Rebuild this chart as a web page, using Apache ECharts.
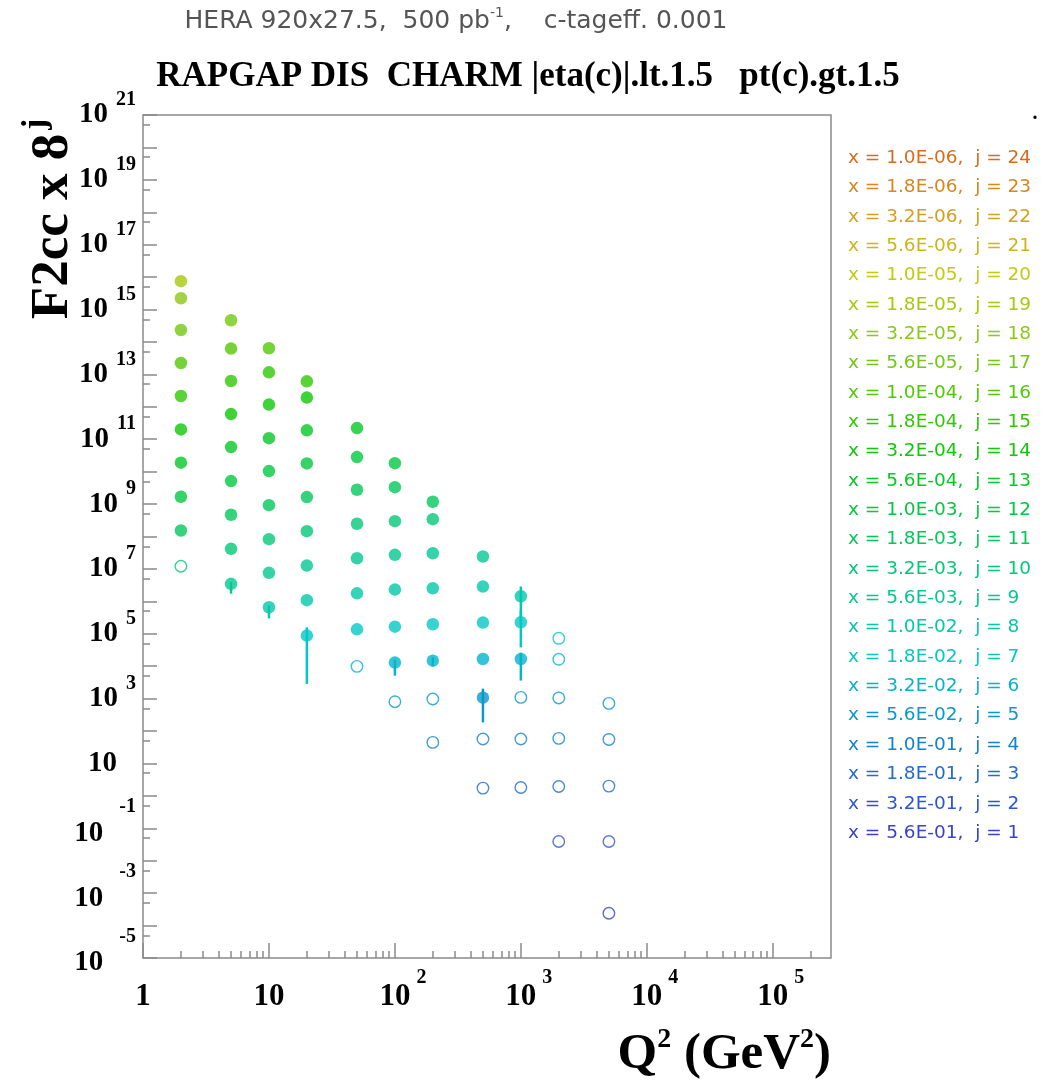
<!DOCTYPE html>
<html>
<head>
<meta charset="utf-8">
<script src="https://cdn.jsdelivr.net/npm/echarts@6/dist/echarts.min.js"></script>
<style>
  html, body { margin: 0; padding: 0; background: #ffffff; }
  #chart { width: 1041px; height: 1085px; }
</style>
</head>
<body>
<div id="chart"></div>
<script>
// Q² bins (GeV²)
const q2Bins = [2, 5, 10, 20, 50, 100, 200, 500, 1000, 2000, 5000];
// x bin labels, index = j - 1
const xBins = ['5.6E-01', '3.2E-01', '1.8E-01', '1.0E-01', '5.6E-02', '3.2E-02',
  '1.8E-02', '1.0E-02', '5.6E-03', '3.2E-03', '1.8E-03', '1.0E-03',
  '5.6E-04', '3.2E-04', '1.8E-04', '1.0E-04', '5.6E-05', '3.2E-05',
  '1.8E-05', '1.0E-05', '5.6E-06', '3.2E-06', '1.8E-06', '1.0E-06'];
// colour of each x bin, index = j - 1
const jColors = ['#3a42cc', '#2c56cc', '#216ccc', '#1582cc', '#0a98cc', '#04b4cc',
  '#04c8c4', '#04c8aa', '#04c892', '#04c878', '#04c85c', '#04c842',
  '#06c828', '#10c808', '#30c804', '#52c806', '#72c812', '#8cc816',
  '#a8c810', '#c2ca12', '#ccb618', '#d4a01e', '#d8861e', '#d86c1c'];

// largest j reached in each Q² bin, and how many points (from the top) are measured
const topJ = [19, 17, 16, 15, 13, 12, 11, 9, 8, 7, 5];
const filledCount = [9, 9, 9, 9, 7, 7, 6, 5, 3, 0, 0];

// F2cc x 8^j in each Q² bin, listed from the largest j downward
const f2Q2_2    = [7.48e15, 2.23e15, 2.34e14, 2.24e13, 2.15e12, 2.01e11, 1.89e10, 1.68e9, 1.53e8, 1.21e7];
const f2Q2_5    = [4.68e14, 6.25e13, 6.25e12, 5.98e11, 5.73e10, 5.11e9, 4.68e8, 4.17e7, 3.47e6];
const f2Q2_10   = [6.38e13, 1.16e13, 1.17e12, 1.08e11, 1.04e10, 9.27e8, 8.26e7, 7.57e6, 6.56e5];
const f2Q2_20   = [6.11e12, 1.92e12, 1.88e11, 1.79e10, 1.64e9, 1.46e8, 1.27e7, 1.09e6, 8.77e4];
const f2Q2_50   = [2.21e11, 2.81e10, 2.77e9, 2.47e8, 2.14e7, 1.77e6, 1.37e5, 9.89e3];
const f2Q2_100  = [1.83e10, 3.33e9, 2.97e8, 2.72e7, 2.31e6, 1.66e5, 1.29e4, 8.04e2];
const f2Q2_200  = [1.18e9, 3.43e8, 3.05e7, 2.54e6, 1.96e5, 1.48e4, 9.75e2, 44.6];
const f2Q2_500  = [2.42e7, 2.86e6, 2.21e5, 1.67e4, 1.07e3, 56.8, 1.74];
const f2Q2_1000 = [1.44e6, 2.26e5, 1.67e4, 1.09e3, 56.8, 1.82];
const f2Q2_2000 = [7.24e4, 1.63e4, 1.05e3, 59.2, 1.95, 3.91e-2];
const f2Q2_5000 = [713, 55.1, 2.00, 3.91e-2, 2.40e-4];
const f2Columns = [f2Q2_2, f2Q2_5, f2Q2_10, f2Q2_20, f2Q2_50, f2Q2_100,
  f2Q2_200, f2Q2_500, f2Q2_1000, f2Q2_2000, f2Q2_5000];

// error bars: Q² bin, j, lower and upper edge
const errQ2   = [5, 10, 20, 100, 200, 500, 1000, 1000, 1000];
const errJ    = [9, 8, 7, 6, 6, 5, 8, 7, 6];
const errLow  = [1.73e6, 3.0e5, 2.83e3, 5.12e3, 1.0e4, 1.85e2, 2.5e5, 3.8e4, 3.6e3];
const errHigh = [3.9e6, 7.5e5, 1.58e5, 1.6e4, 1.9e4, 2.03e3, 2.86e6, 5.0e5, 2.6e4];

// axis decorations (powers of ten)
const yLabelExp = [-5, -3, -1, 1, 3, 5, 7, 9, 11, 13, 15, 17, 19, 21];
const xLabelExp = [0, 1, 2, 3, 4, 5];

const lg = Math.log10;
const yMin = -5, yMax = 21;
const xMin = 0, xMax = lg(2.9e5);

const yMajorTicks = [];
const yMinorTicks = [];
for (let k = yMin; k <= yMax; k++) {
  yMajorTicks.push(k);
  if (k < yMax) yMinorTicks.push(k + lg(5));
}
const xMajorTicks = [0, 1, 2, 3, 4, 5];
const xMinorTicks = [];
for (let k = 0; k <= 5; k++) {
  for (let m = 2; m <= 9; m++) {
    const v = k + lg(m);
    if (v < xMax) xMinorTicks.push(v);
  }
}

const legendName = j => 'x = ' + xBins[j - 1] + ',  j = ' + j;

// one scatter series per x bin
const series = [];
for (let j = 24; j >= 1; j--) {
  const color = jColors[j - 1];
  const data = [];
  f2Columns.forEach((col, c) => {
    const idx = topJ[c] - j;
    if (idx < 0 || idx >= col.length) return;
    const open = idx >= filledCount[c];
    data.push({
      value: [lg(q2Bins[c]), lg(col[idx])],
      symbolSize: open ? 11.5 : 12.5,
      itemStyle: open
        ? { color: '#ffffff', borderColor: color, borderWidth: 1.4 }
        : { color: color, borderWidth: 0 }
    });
  });
  series.push({
    type: 'scatter',
    name: legendName(j),
    symbol: 'circle',
    data: data,
    z: 3,
    emphasis: { disabled: true },
    itemStyle: { color: color }
  });
}

series.push({
  type: 'custom',
  name: 'errors',
  z: 2,
  data: errQ2.map((q, i) => [lg(q), lg(errLow[i]), lg(errHigh[i]), errJ[i]]),
  encode: { x: 0, y: [1, 2] },
  renderItem: (params, api) => {
    const lo = api.coord([api.value(0), api.value(1)]);
    const hi = api.coord([api.value(0), api.value(2)]);
    return {
      type: 'line',
      shape: { x1: lo[0], y1: lo[1], x2: hi[0], y2: hi[1] },
      style: { stroke: jColors[api.value(3) - 1], lineWidth: 2.5 }
    };
  }
});

const serif = '"Liberation Serif", "Times New Roman", serif';
const sans = '"DejaVu Sans", sans-serif';
const tickColor = '#8a8a8a';

// exponent tokens are lifted with bottom padding; boxes stay shorter than two decades
const yRich = {
  b: { fontFamily: serif, fontWeight: 'bold', fontSize: 29, lineHeight: 29, color: '#000' },
  e: { fontFamily: serif, fontWeight: 'bold', fontSize: 20, lineHeight: 20, color: '#000', padding: [0, 0, 30, 8] },
  n: { fontFamily: serif, fontWeight: 'bold', fontSize: 20, lineHeight: 20, color: '#000', padding: [0, 0, 42, 16] },
  bn: { fontFamily: serif, fontWeight: 'bold', fontSize: 29, lineHeight: 29, color: '#000', padding: [10, 0, 0, 0] },
  sp: { width: 19, fontSize: 20, lineHeight: 20 }
};
const xRich = {
  b: { fontFamily: serif, fontWeight: 'bold', fontSize: 31, lineHeight: 58, color: '#000' },
  bl: { fontFamily: serif, fontWeight: 'bold', fontSize: 31, lineHeight: 58, color: '#000', padding: [0, 0, 0, 16] },
  e: { fontFamily: serif, fontWeight: 'bold', fontSize: 20, lineHeight: 20, color: '#000', padding: [0, 0, 38, 6] }
};

const option = {
  animation: false,
  backgroundColor: '#ffffff',
  grid: {
    left: 143, right: 210, top: 115, bottom: 127,
    show: true, borderColor: tickColor, borderWidth: 1.5, backgroundColor: 'transparent'
  },
  legend: {
    orient: 'vertical',
    left: 838,
    top: 143,
    icon: 'none',
    itemWidth: 0,
    itemHeight: 14,
    itemGap: 9.35,
    selectedMode: false,
    textStyle: { fontFamily: sans, fontSize: 18.5, lineHeight: 20 },
    data: Array.from({ length: 24 }, (_, i) => {
      const j = 24 - i;
      return { name: legendName(j), icon: 'none', textStyle: { color: jColors[j - 1] } };
    })
  },
  xAxis: [
    {
      type: 'value', min: xMin, max: xMax, position: 'bottom',
      axisLine: { show: false, onZero: false },
      splitLine: { show: false },
      axisTick: { show: true, inside: true, length: 15, customValues: xMajorTicks,
        lineStyle: { color: tickColor, width: 1.5 } },
      axisLabel: {
        customValues: xLabelExp, margin: 10, rich: xRich,
        showMinLabel: true, showMaxLabel: true, hideOverlap: false,
        formatter: v => {
          const e = Math.round(v);
          if (e === 0) return '{b|1}';
          if (e === 1) return '{b|10}';
          return '{bl|10}{e|' + e + '}';
        }
      }
    },
    {
      type: 'value', min: xMin, max: xMax, position: 'bottom',
      axisLine: { show: false, onZero: false },
      splitLine: { show: false },
      axisTick: { show: true, inside: true, length: 7, customValues: xMinorTicks,
        lineStyle: { color: tickColor, width: 1.5 } },
      axisLabel: { show: false }
    }
  ],
  yAxis: [
    {
      type: 'value', min: yMin, max: yMax, position: 'left',
      axisLine: { show: false, onZero: false },
      splitLine: { show: false },
      axisTick: { show: true, inside: true, length: 14, customValues: yMajorTicks,
        lineStyle: { color: tickColor, width: 1.5 } },
      axisLabel: {
        customValues: yLabelExp, margin: 7, rich: yRich,
        showMinLabel: true, showMaxLabel: true, hideOverlap: false,
        formatter: v => {
          const e = Math.round(v);
          if (e === 1) return '{b|10}{sp|}';
          if (e < 0) return '{bn|10}{n|' + e + '}';
          return '{b|10}{e|' + e + '}';
        }
      }
    },
    {
      type: 'value', min: yMin, max: yMax, position: 'left',
      axisLine: { show: false, onZero: false },
      splitLine: { show: false },
      axisTick: { show: true, inside: true, length: 7, customValues: yMinorTicks,
        lineStyle: { color: tickColor, width: 1.5 } },
      axisLabel: { show: false }
    }
  ],
  graphic: [
    {
      type: 'text', x: 456, y: 21,
      style: {
        text: '{a|HERA 920x27.5,  500 pb}{s|-1}{a|,    c-tageff. 0.001}',
        textAlign: 'center', textVerticalAlign: 'middle',
        rich: {
          a: { fontFamily: sans, fontSize: 25, lineHeight: 28, fill: '#555555', color: '#555555' },
          s: { fontFamily: sans, fontSize: 14, lineHeight: 14, fill: '#555555', color: '#555555', padding: [0, 0, 16, 0] }
        }
      }
    },
    {
      type: 'text', x: 528, y: 77,
      style: {
        text: 'RAPGAP DIS  CHARM |eta(c)|.lt.1.5   pt(c).gt.1.5',
        font: 'bold 35px ' + serif, fill: '#000',
        textAlign: 'center', textVerticalAlign: 'middle'
      }
    },
    {
      type: 'text', x: 53, y: 219, rotation: Math.PI / 2,
      style: {
        text: '{t|F2cc x 8}{s|j}',
        textAlign: 'center', textVerticalAlign: 'middle',
        rich: {
          t: { fontFamily: serif, fontWeight: 'bold', fontSize: 53, lineHeight: 53, fill: '#000', color: '#000' },
          s: { fontFamily: serif, fontWeight: 'bold', fontSize: 33, lineHeight: 33, fill: '#000', color: '#000', padding: [0, 0, 34, 4] }
        }
      }
    },
    {
      type: 'text', x: 831, y: 1055,
      style: {
        text: '{t|Q}{s|2}{t| (GeV}{s|2}{t|)}',
        textAlign: 'right', textVerticalAlign: 'middle',
        rich: {
          t: { fontFamily: serif, fontWeight: 'bold', fontSize: 51, lineHeight: 51, fill: '#000', color: '#000' },
          s: { fontFamily: serif, fontWeight: 'bold', fontSize: 28, lineHeight: 28, fill: '#000', color: '#000', padding: [0, 0, 30, 0] }
        }
      }
    },
    {
      type: 'text', x: 1035, y: 114,
      style: { text: '.', font: 'bold 20px ' + serif, fill: '#000', textAlign: 'center', textVerticalAlign: 'middle' }
    }
  ],
  series: series
};

const chart = echarts.init(document.getElementById('chart'), null, { renderer: 'canvas' });
chart.setOption(option);
</script>
</body>
</html>
